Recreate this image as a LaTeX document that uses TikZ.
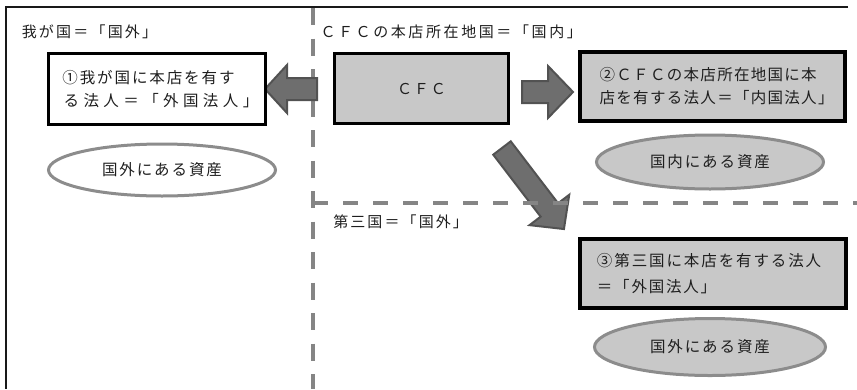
\documentclass[tikz,border=0pt]{standalone}
\usepackage{fontspec}
\setmainfont{Noto Sans CJK JP}
\usetikzlibrary{shapes.geometric}
\makeatletter
% set each character of a line in a cell of fixed pitch
\newcommand\jp[2]{\def\jp@w{#1}\jp@loop#2\relax}
\def\jp@loop#1{\ifx#1\relax\else\makebox[\jp@w][c]{#1}\expandafter\jp@loop\fi}
\makeatother
\definecolor{boxgray}{HTML}{C8C8C8}
\definecolor{dashgray}{HTML}{858585}
\definecolor{arrfill}{HTML}{6E6E6E}
\definecolor{arredge}{HTML}{525252}
\definecolor{ellline}{HTML}{8C8C8C}
\definecolor{txt}{HTML}{1E1E1E}
\begin{document}
\begin{tikzpicture}[x=1pt,y=-1pt,
  hdr/.style={anchor=west,inner sep=0pt,text=txt,font=\fontsize{15}{18}\selectfont},
  box/.style={draw=black,fill=boxgray,rectangle,inner ysep=0pt,align=left,text=txt},
  ell/.style={ellipse,draw=ellline,line width=3pt,inner sep=0pt,text=txt,font=\fontsize{15.5}{18}\selectfont},
  dashline/.style={draw=dashgray,line width=4pt},
  blockarrow/.style={fill=arrfill,draw=arredge,line width=2pt,line join=miter}
]
\useasboundingbox (0,0) rectangle (857,389);
% frame
\draw[line width=2pt,draw=black!90] (848,7) -- (5.5,7) -- (5.5,389);
% vertical dashed border
\draw[dashline,dash pattern=on 17pt off 13.5pt] (313,8) -- (313,389);
% diagonal arrow
\begin{scope}[shift={(502,148)},rotate=-52.6]
  \coordinate (d0) at (0,0);
  \draw[blockarrow] (0,-11) -- (78,-11) -- (78,-25) -- (102,0) -- (78,25) -- (78,11) -- (0,11) -- cycle;
\end{scope}
% horizontal dashed border
\draw[dashline,dash pattern=on 15pt off 15pt] (313,203) -- (857,203);
% left arrow
\draw[blockarrow] (317,78) -- (287,78) -- (287,65) -- (265,89) -- (287,113) -- (287,100) -- (317,100) -- cycle;
% right arrow
\draw[blockarrow] (522,81) -- (548,81) -- (548,66) -- (573,92) -- (548,118) -- (548,103) -- (522,103) -- cycle;
% boxes
\node[box,fill=white,line width=3.5pt,minimum width=217pt,minimum height=71pt,
      inner xsep=13pt,text width=191pt,font=\fontsize{15.5}{23}\selectfont]
  (b1) at (157,89) {\jp{17.4pt}{①我が国に本店を有す}\\\jp{19.9pt}{る法人＝「外国法人」}};
\node[box,line width=3pt,minimum width=174pt,minimum height=70pt,align=center,
      font=\fontsize{15}{18}\selectfont]
  (cfc) at (421.5,88.5) {\jp{17pt}{ＣＦＣ}};
\node[box,line width=4pt,minimum width=265pt,minimum height=69pt,
      inner xsep=19pt,text width=227pt,font=\fontsize{15.5}{23}\selectfont]
  (b2) at (712.5,86.5) {\jp{16.8pt}{②ＣＦＣの本店所在地国に本}\\\jp{16.8pt}{店を有する法人＝「内国法人」}};
\node[box,line width=4pt,minimum width=266pt,minimum height=69pt,
      inner xsep=16pt,text width=234pt,font=\fontsize{15.5}{26}\selectfont]
  (b3) at (713,273.5) {\jp{17.4pt}{③第三国に本店を有する法人}\\\jp{17.3pt}{＝「外国法人」}};
% ellipses
\node[ell,fill=white,minimum width=227pt,minimum height=52pt] (e1) at (162,170) {\jp{17.4pt}{国外にある資産}};
\node[ell,fill=boxgray,minimum width=227pt,minimum height=54pt] (e2) at (710,162) {\jp{17.4pt}{国内にある資産}};
\node[ell,fill=boxgray,minimum width=231pt,minimum height=57pt] (e3) at (710,347) {\jp{17.4pt}{国外にある資産}};
% headers
\node[hdr] (h1) at (20.5,32) {\jp{17.2pt}{我が国＝「国外」}};
\node[hdr] (h2) at (319,32) {\jp{17.6pt}{ＣＦＣの本店所在地国＝「国内」}};
\node[hdr] (h3) at (332,222) {\jp{17.1pt}{第三国＝「国外」}};
\end{tikzpicture}
\end{document}
